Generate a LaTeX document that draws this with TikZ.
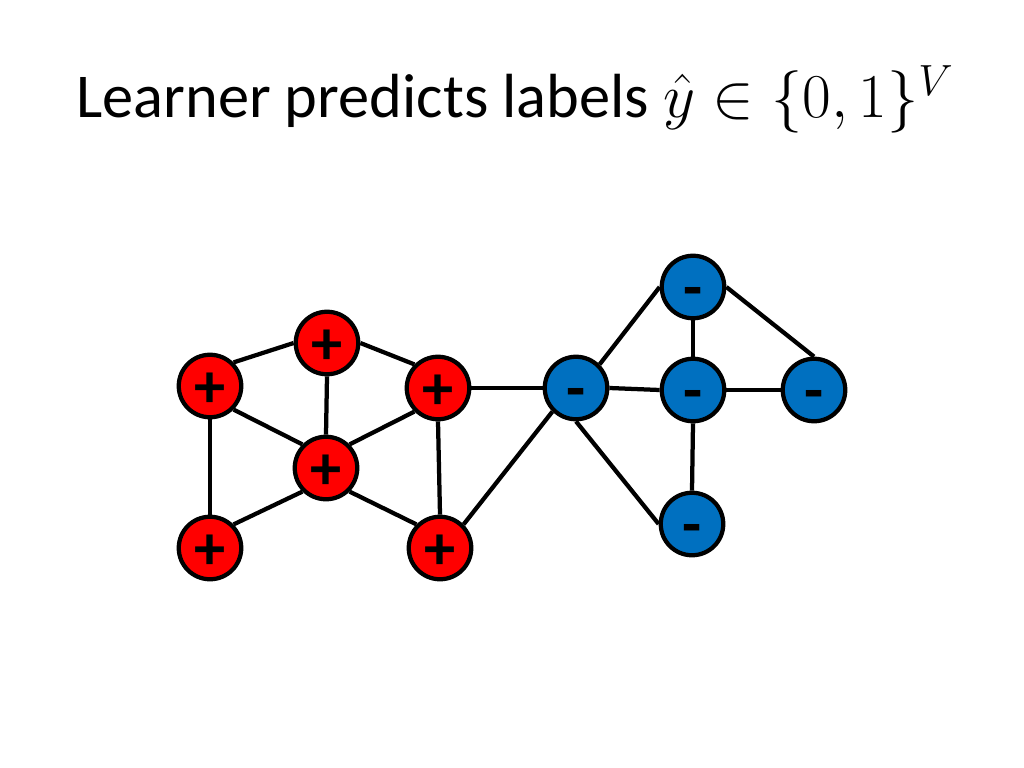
\RequirePackage{fix-cm}
\documentclass[tikz,border=0pt]{standalone}
\usepackage{fontspec}
\setmainfont{Carlito}
\begin{document}
\begin{tikzpicture}[x=0.0248cm, y=-0.0248cm,
    posnode/.style={draw, circle, line width=3pt, fill=red, minimum size=1.55cm, inner sep=0pt,
        text height=31pt, text depth=0pt, font=\fontsize{44}{44}\selectfont\bfseries},
    negnode/.style={posnode, fill=negblue},
    edge/.style={line width=3pt}]
    \definecolor{negblue}{RGB}{0,112,192}
    \useasboundingbox (0,0) rectangle (1024,768);

    % Title
    \node[anchor=base] (title) at (515,118) {\fontsize{44}{44}\selectfont Learner predicts labels $\hat{y}\in\{0,1\}^V$};

    % Positive nodes
    \node[posnode] (p1) at (210,386) {+};
    \node[posnode] (p2) at (327,343) {+};
    \node[posnode] (p3) at (438,388) {+};
    \node[posnode] (p4) at (326,468) {+};
    \node[posnode] (p5) at (210,548) {+};
    \node[posnode] (p6) at (440,548) {+};

    % Negative nodes
    \node[negnode] (n1) at (576,388) {-};
    \node[negnode] (n2) at (693,287) {-};
    \node[negnode] (n3) at (693,390) {-};
    \node[negnode] (n4) at (814,390) {-};
    \node[negnode] (n5) at (692,524) {-};

    % Edges
    \draw[edge] (p1.north east) -- (p2.west);
    \draw[edge] (p2.east) -- (p3.north west);
    \draw[edge] (p1.south east) -- (p4.north west);
    \draw[edge] (p2.south) -- (p4.north);
    \draw[edge] (p3.south west) -- (p4.north east);
    \draw[edge] (p1.south) -- (p5.north);
    \draw[edge] (p5.north east) -- (p4.south west);
    \draw[edge] (p4.south east) -- (p6.north west);
    \draw[edge] (p3.south) -- (p6.north);
    \draw[edge] (p3.east) -- (n1.west);
    \draw[edge] (p6.north east) -- (n1.south west);
    \draw[edge] (n1.north east) -- (n2.west);
    \draw[edge] (n1.east) -- (n3.west);
    \draw[edge] (n1.south) -- (n5.west);
    \draw[edge] (n2.south) -- (n3.north);
    \draw[edge] (n2.east) -- (n4.north);
    \draw[edge] (n3.east) -- (n4.west);
    \draw[edge] (n3.south) -- (n5.north);

\end{tikzpicture}
\end{document}
